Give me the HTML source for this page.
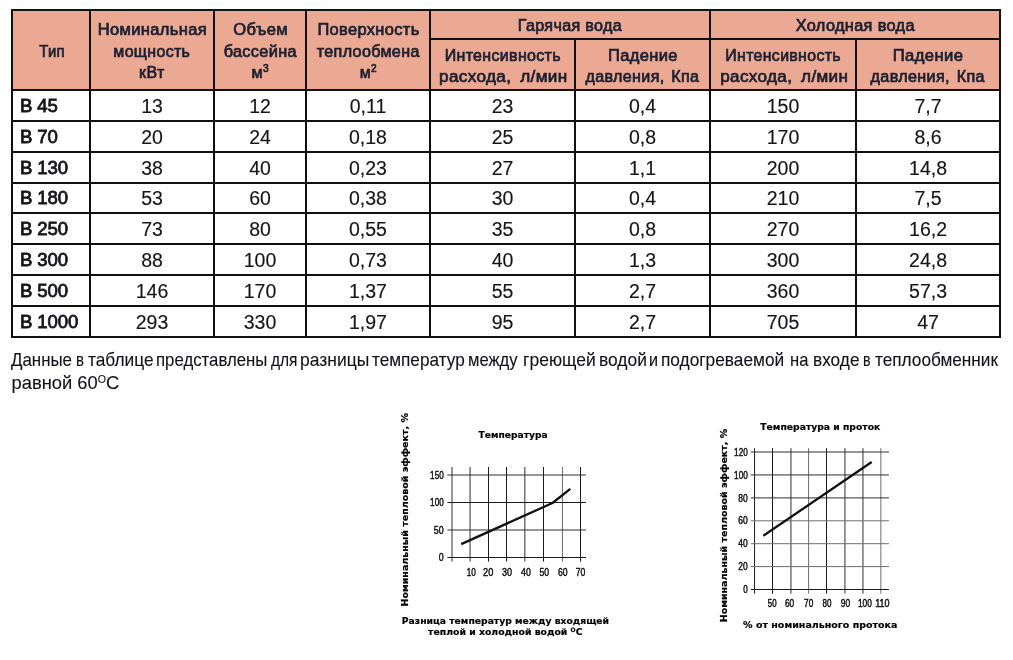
<!DOCTYPE html>
<html lang="ru">
<head>
<meta charset="utf-8">
<title>Технические характеристики теплообменников</title>
<style>
  html, body { margin: 0; padding: 0; background: #fff; }
  body { width: 1013px; height: 660px; position: relative; overflow: hidden;
         font-family: "Liberation Sans", sans-serif; color: #1b1b1f; }
  table.spec { position: absolute; left: 11px; top: 9px; border-collapse: collapse;
               table-layout: fixed; width: 990px; }
  table.spec th, table.spec td { border: 2px solid #111; padding: 0; text-align: center;
               overflow: hidden; white-space: nowrap; }
  table.spec th { background: #eba893; font-weight: normal; font-size: 16px; line-height: 21px;
               color: #1c2030; vertical-align: top; -webkit-text-stroke: 0.7px #1c2030; letter-spacing: 0.35px; }
  table.spec th .l { display: block; height: 21px; }
  table.spec th sup { font-size: 10px; line-height: 0; vertical-align: 6px; }
  table.spec th.c3 { padding-top: 7px; }
  table.spec th.c1 { padding-top: 29px; }
  table.spec th.g { padding-top: 3px; }
  table.spec th.c2 { padding-top: 4px; }
  table.spec td { font-size: 19.5px; line-height: 22px; height: 29px; vertical-align: middle;
               color: #15151c; -webkit-text-stroke: 0.15px #15151c; }
  table.spec td span { display: inline-block; }
  table.spec td.t { text-align: left; font-weight: normal; font-size: 18.6px; padding-left: 7px;
               letter-spacing: -0.1px; -webkit-text-stroke: 0.8px #15151c; }
  table.spec td.t span { transform: translateY(0.3px); }
  table.spec tr.s td { height: 28px; }
  table.spec tr.h1 { height: 29px; }
  table.spec tr.h2 { height: 51px; }
  p.note { position: absolute; left: 11px; top: 349px; margin: 0; font-size: 19px; line-height: 22.7px;
           white-space: nowrap; color: #12121c; -webkit-text-stroke: 0.12px #12121c; }
  p.note span { display: block; transform-origin: 0 0; }
  p.note .n1 { position: relative; height: 22.7px; width: 990px; }
  p.note .n1 .w { position: absolute; top: 0; }
  p.note .n2 { transform: translate(0.5px, -0.3px) scaleX(0.966); }
  p.note sup { font-size: 11px; vertical-align: 5.9px; line-height: 0; }
  svg.chart { position: absolute; left: 0; top: 0; }
</style>
</head>
<body>
<table class="spec">
  <colgroup>
    <col style="width:78px"><col style="width:124px"><col style="width:92px"><col style="width:124px">
    <col style="width:145px"><col style="width:135px"><col style="width:146px"><col style="width:144px">
  </colgroup>
  <thead>
    <tr class="h1">
      <th class="c1" rowspan="2"><span class="l" style="transform:translate(1.05px,1.00px) scaleX(0.9249)">Тип</span></th>
      <th class="c3" rowspan="2"><span class="l" style="transform:translate(0.30px,1.00px) scaleX(1.0309)">Номинальная</span><span class="l" style="transform:translate(-0.20px,2.00px) scaleX(0.9956)">мощность</span><span class="l" style="transform:translate(-0.15px,2.00px) scaleX(0.9981)">кВт</span></th>
      <th class="c3" rowspan="2"><span class="l" style="transform:translate(0.70px,1.00px) scaleX(1.0365)">Объем</span><span class="l" style="transform:translate(0.30px,2.00px) scaleX(1.0172)">бассейна</span><span class="l" style="transform:translate(0.30px,2.00px) scaleX(1.0196)">м<sup>3</sup></span></th>
      <th class="c3" rowspan="2"><span class="l" style="transform:translate(0.50px,1.00px) scaleX(1.0265)">Поверхность</span><span class="l" style="transform:translate(0.25px,2.00px) scaleX(1.0059)">теплообмена</span><span class="l" style="transform:translate(0.40px,2.00px) scaleX(0.9974)">м<sup>2</sup></span></th>
      <th class="g" colspan="2"><span class="l" style="transform:translate(-0.10px,1.00px) scaleX(1.0067)">Гарячая вода</span></th>
      <th class="g" colspan="2"><span class="l" style="transform:translate(0.30px,1.00px) scaleX(1.0184)">Холодная вода</span></th>
    </tr>
    <tr class="h2">
      <th class="c2"><span class="l" style="transform:translate(0.30px,1.00px) scaleX(0.9967)">Интенсивность</span><span class="l" style="transform:translate(0.80px,1.00px) scaleX(1.0691);word-spacing:3.5px">расхода, л/мин</span></th>
      <th class="c2"><span class="l" style="transform:translate(0.40px,1.00px) scaleX(1.0304)">Падение</span><span class="l" style="transform:translate(0.00px,1.00px) scaleX(1.0041);word-spacing:2px">давления, Кпа</span></th>
      <th class="c2"><span class="l" style="transform:translate(0.10px,1.00px) scaleX(0.9916)">Интенсивность</span><span class="l" style="transform:translate(1.25px,1.00px) scaleX(1.0651);word-spacing:3.5px">расхода, л/мин</span></th>
      <th class="c2"><span class="l" style="transform:translate(0.05px,1.00px) scaleX(1.0405)">Падение</span><span class="l" style="transform:translate(-0.30px,1.00px) scaleX(1.0078);word-spacing:2px">давления, Кпа</span></th>
    </tr>
  </thead>
  <tbody>
    <tr><td class="t"><span>B 45</span></td><td><span>13</span></td><td><span>12</span></td><td><span>0,11</span></td><td><span>23</span></td><td><span>0,4</span></td><td><span>150</span></td><td><span>7,7</span></td></tr>
    <tr><td class="t"><span>B 70</span></td><td><span>20</span></td><td><span>24</span></td><td><span>0,18</span></td><td><span>25</span></td><td><span>0,8</span></td><td><span>170</span></td><td><span>8,6</span></td></tr>
    <tr><td class="t"><span>B 130</span></td><td><span>38</span></td><td><span>40</span></td><td><span>0,23</span></td><td><span>27</span></td><td><span>1,1</span></td><td><span>200</span></td><td><span>14,8</span></td></tr>
    <tr class="s"><td class="t"><span>B 180</span></td><td><span>53</span></td><td><span>60</span></td><td><span>0,38</span></td><td><span>30</span></td><td><span>0,4</span></td><td><span>210</span></td><td><span>7,5</span></td></tr>
    <tr><td class="t"><span>B 250</span></td><td><span>73</span></td><td><span>80</span></td><td><span>0,55</span></td><td><span>35</span></td><td><span>0,8</span></td><td><span>270</span></td><td><span>16,2</span></td></tr>
    <tr><td class="t"><span>B 300</span></td><td><span>88</span></td><td><span>100</span></td><td><span>0,73</span></td><td><span>40</span></td><td><span>1,3</span></td><td><span>300</span></td><td><span>24,8</span></td></tr>
    <tr><td class="t"><span>B 500</span></td><td><span>146</span></td><td><span>170</span></td><td><span>1,37</span></td><td><span>55</span></td><td><span>2,7</span></td><td><span>360</span></td><td><span>57,3</span></td></tr>
    <tr><td class="t"><span>B 1000</span></td><td><span>293</span></td><td><span>330</span></td><td><span>1,97</span></td><td><span>95</span></td><td><span>2,7</span></td><td><span>705</span></td><td><span>47</span></td></tr>
  </tbody>
</table>

<p class="note"><span class="n1"><span class="w" style="left:0.30px;transform:scaleX(0.8882)">Данные</span> <span class="w" style="left:65.21px;transform:scaleX(0.7875)">в</span> <span class="w" style="left:77.00px;transform:scaleX(0.9099)">таблице</span> <span class="w" style="left:145.22px;transform:scaleX(0.8831)">представлены</span> <span class="w" style="left:259.50px;transform:scaleX(0.8161)">для</span> <span class="w" style="left:288.68px;transform:scaleX(0.9192)">разницы</span> <span class="w" style="left:360.90px;transform:scaleX(0.9049)">температур</span> <span class="w" style="left:456.83px;transform:scaleX(0.8732)">между</span> <span class="w" style="left:511.68px;transform:scaleX(0.9221)">греющей</span> <span class="w" style="left:587.68px;transform:scaleX(0.9160)">водой</span> <span class="w" style="left:638.35px;transform:scaleX(0.8500)">и</span> <span class="w" style="left:650.29px;transform:scaleX(0.9098)">подогреваемой</span> <span class="w" style="left:779.23px;transform:scaleX(0.8750)">на</span> <span class="w" style="left:801.79px;transform:scaleX(0.9082)">входе</span> <span class="w" style="left:851.95px;transform:scaleX(0.7500)">в</span> <span class="w" style="left:863.50px;transform:scaleX(0.9059)">теплообменник</span></span><span class="n2">равной 60<sup>O</sup>C</span></p>
<svg class="chart" width="240" height="250" viewBox="385 405 240 250" style="left:385px;top:405px">
<line x1="452" y1="467" x2="452" y2="561.6" stroke="#2e2e2e" stroke-width="1"/>
<line x1="470.05" y1="467" x2="470.05" y2="561.6" stroke="#2e2e2e" stroke-width="1"/>
<line x1="488.5" y1="467" x2="488.5" y2="561.6" stroke="#1c1c1c" stroke-width="1"/>
<line x1="506.5" y1="467" x2="506.5" y2="561.6" stroke="#1c1c1c" stroke-width="1"/>
<line x1="524.85" y1="467" x2="524.85" y2="561.6" stroke="#2e2e2e" stroke-width="1"/>
<line x1="543.5" y1="467" x2="543.5" y2="561.6" stroke="#1c1c1c" stroke-width="1"/>
<line x1="562.45" y1="467" x2="562.45" y2="561.6" stroke="#6e6e6e" stroke-width="1"/>
<line x1="580.5" y1="467" x2="580.5" y2="561.6" stroke="#1c1c1c" stroke-width="1"/>
<line x1="447.4" y1="475" x2="586" y2="475" stroke="#2e2e2e" stroke-width="1"/>
<line x1="447.4" y1="502.5" x2="586" y2="502.5" stroke="#1c1c1c" stroke-width="1"/>
<line x1="447.4" y1="530" x2="586" y2="530" stroke="#2e2e2e" stroke-width="1"/>
<line x1="447.4" y1="557.5" x2="586" y2="557.5" stroke="#1c1c1c" stroke-width="1"/>
<polyline points="461.2,544.1 552.5,503 570.3,488.9" fill="none" stroke="#111" stroke-width="2.3" stroke-linejoin="round"/>
<text x="430.1" y="478.7" font-family="Liberation Sans, sans-serif" font-size="10.5" fill="#111" stroke="#111" stroke-width="0.45" textLength="13.6" lengthAdjust="spacingAndGlyphs">150</text>
<text x="430.1" y="506.2" font-family="Liberation Sans, sans-serif" font-size="10.5" fill="#111" stroke="#111" stroke-width="0.45" textLength="13.6" lengthAdjust="spacingAndGlyphs">100</text>
<text x="433.8" y="533.7" font-family="Liberation Sans, sans-serif" font-size="10.5" fill="#111" stroke="#111" stroke-width="0.45" textLength="9.9" lengthAdjust="spacingAndGlyphs">50</text>
<text x="438.8" y="561.2" font-family="Liberation Sans, sans-serif" font-size="10.5" fill="#111" stroke="#111" stroke-width="0.45" textLength="4.9" lengthAdjust="spacingAndGlyphs">0</text>
<text x="466.7" y="576.2" font-family="Liberation Sans, sans-serif" font-size="10.5" fill="#111" stroke="#111" stroke-width="0.45" textLength="9.1" lengthAdjust="spacingAndGlyphs">10</text>
<text x="483.1" y="576.2" font-family="Liberation Sans, sans-serif" font-size="10.5" fill="#111" stroke="#111" stroke-width="0.45" textLength="10.2" lengthAdjust="spacingAndGlyphs">20</text>
<text x="501.9" y="576.2" font-family="Liberation Sans, sans-serif" font-size="10.5" fill="#111" stroke="#111" stroke-width="0.45" textLength="10" lengthAdjust="spacingAndGlyphs">30</text>
<text x="521" y="576.2" font-family="Liberation Sans, sans-serif" font-size="10.5" fill="#111" stroke="#111" stroke-width="0.45" textLength="9.8" lengthAdjust="spacingAndGlyphs">40</text>
<text x="539.4" y="576.2" font-family="Liberation Sans, sans-serif" font-size="10.5" fill="#111" stroke="#111" stroke-width="0.45" textLength="9.6" lengthAdjust="spacingAndGlyphs">50</text>
<text x="558" y="576.2" font-family="Liberation Sans, sans-serif" font-size="10.5" fill="#111" stroke="#111" stroke-width="0.45" textLength="9.6" lengthAdjust="spacingAndGlyphs">60</text>
<text x="575.7" y="576.2" font-family="Liberation Sans, sans-serif" font-size="10.5" fill="#111" stroke="#111" stroke-width="0.45" textLength="9.6" lengthAdjust="spacingAndGlyphs">70</text>
<text x="478.6" y="437.8" font-family="DejaVu Sans, Liberation Sans, sans-serif" font-size="9.4" font-weight="bold" stroke="#111" stroke-width="0.2" textLength="69.1" lengthAdjust="spacingAndGlyphs">Температура</text>
<text x="401.8" y="623.6" font-family="DejaVu Sans, Liberation Sans, sans-serif" font-size="9.4" font-weight="bold" stroke="#111" stroke-width="0.2" textLength="207.3" lengthAdjust="spacingAndGlyphs">Разница температур между входящей</text>
<text x="428.1" y="635.4" font-family="DejaVu Sans, Liberation Sans, sans-serif" font-size="9.4" font-weight="bold" stroke="#111" stroke-width="0.2" textLength="154.4" lengthAdjust="spacingAndGlyphs">теплой и холодной водой <tspan font-size="6" dy="-3.2">O</tspan><tspan dy="3.2">C</tspan></text>
<text transform="translate(408.4 606.5) rotate(-90)" font-family="DejaVu Sans, Liberation Sans, sans-serif" font-size="9.4" font-weight="bold" stroke="#111" stroke-width="0.2" textLength="193.4" lengthAdjust="spacingAndGlyphs">Номинальный тепловой эффект, %</text>
</svg>
<svg class="chart" width="210" height="240" viewBox="700 410 210 240" style="left:700px;top:410px">
<line x1="754.55" y1="448.2" x2="754.55" y2="593.7" stroke="#1c1c1c" stroke-width="1"/>
<line x1="772.5" y1="448.2" x2="772.5" y2="593.7" stroke="#1c1c1c" stroke-width="1"/>
<line x1="790.95" y1="448.2" x2="790.95" y2="593.7" stroke="#2e2e2e" stroke-width="1"/>
<line x1="808.6" y1="448.2" x2="808.6" y2="593.7" stroke="#6e6e6e" stroke-width="1"/>
<line x1="826.5" y1="448.2" x2="826.5" y2="593.7" stroke="#1c1c1c" stroke-width="1"/>
<line x1="844.95" y1="448.2" x2="844.95" y2="593.7" stroke="#2e2e2e" stroke-width="1"/>
<line x1="862.95" y1="448.2" x2="862.95" y2="593.7" stroke="#2e2e2e" stroke-width="1"/>
<line x1="880.85" y1="448.2" x2="880.85" y2="593.7" stroke="#6e6e6e" stroke-width="1"/>
<line x1="750.8" y1="452" x2="888.9" y2="452" stroke="#2e2e2e" stroke-width="1"/>
<line x1="750.8" y1="474.95" x2="888.9" y2="474.95" stroke="#2e2e2e" stroke-width="1"/>
<line x1="750.8" y1="497.9" x2="888.9" y2="497.9" stroke="#2e2e2e" stroke-width="1"/>
<line x1="750.8" y1="520.8" x2="888.9" y2="520.8" stroke="#6e6e6e" stroke-width="1"/>
<line x1="750.8" y1="543.7" x2="888.9" y2="543.7" stroke="#6e6e6e" stroke-width="1"/>
<line x1="750.8" y1="566.6" x2="888.9" y2="566.6" stroke="#6e6e6e" stroke-width="1"/>
<line x1="750.8" y1="589.5" x2="888.9" y2="589.5" stroke="#1c1c1c" stroke-width="1"/>
<polyline points="763.3,535.8 871.7,462.0" fill="none" stroke="#111" stroke-width="2.3"/>
<text x="734.1" y="455.6" font-family="Liberation Sans, sans-serif" font-size="10" fill="#111" stroke="#111" stroke-width="0.45" textLength="13.6" lengthAdjust="spacingAndGlyphs">120</text>
<text x="734.1" y="478.55" font-family="Liberation Sans, sans-serif" font-size="10" fill="#111" stroke="#111" stroke-width="0.45" textLength="13.6" lengthAdjust="spacingAndGlyphs">100</text>
<text x="738.3" y="501.5" font-family="Liberation Sans, sans-serif" font-size="10" fill="#111" stroke="#111" stroke-width="0.45" textLength="9.4" lengthAdjust="spacingAndGlyphs">80</text>
<text x="738.3" y="524.4" font-family="Liberation Sans, sans-serif" font-size="10" fill="#111" stroke="#111" stroke-width="0.45" textLength="9.4" lengthAdjust="spacingAndGlyphs">60</text>
<text x="738.3" y="547.3" font-family="Liberation Sans, sans-serif" font-size="10" fill="#111" stroke="#111" stroke-width="0.45" textLength="9.4" lengthAdjust="spacingAndGlyphs">40</text>
<text x="738.3" y="570.2" font-family="Liberation Sans, sans-serif" font-size="10" fill="#111" stroke="#111" stroke-width="0.45" textLength="9.4" lengthAdjust="spacingAndGlyphs">20</text>
<text x="743.2" y="593.1" font-family="Liberation Sans, sans-serif" font-size="10" fill="#111" stroke="#111" stroke-width="0.45" textLength="4.5" lengthAdjust="spacingAndGlyphs">0</text>
<text x="767.8" y="607.1" font-family="Liberation Sans, sans-serif" font-size="10" fill="#111" stroke="#111" stroke-width="0.45" textLength="8.7" lengthAdjust="spacingAndGlyphs">50</text>
<text x="785" y="607.1" font-family="Liberation Sans, sans-serif" font-size="10" fill="#111" stroke="#111" stroke-width="0.45" textLength="9.2" lengthAdjust="spacingAndGlyphs">60</text>
<text x="804.1" y="607.1" font-family="Liberation Sans, sans-serif" font-size="10" fill="#111" stroke="#111" stroke-width="0.45" textLength="9.1" lengthAdjust="spacingAndGlyphs">70</text>
<text x="822.5" y="607.1" font-family="Liberation Sans, sans-serif" font-size="10" fill="#111" stroke="#111" stroke-width="0.45" textLength="8.9" lengthAdjust="spacingAndGlyphs">80</text>
<text x="840.8" y="607.1" font-family="Liberation Sans, sans-serif" font-size="10" fill="#111" stroke="#111" stroke-width="0.45" textLength="9.3" lengthAdjust="spacingAndGlyphs">90</text>
<text x="858" y="607.1" font-family="Liberation Sans, sans-serif" font-size="10" fill="#111" stroke="#111" stroke-width="0.45" textLength="13.8" lengthAdjust="spacingAndGlyphs">100</text>
<text x="875.2" y="607.1" font-family="Liberation Sans, sans-serif" font-size="10" fill="#111" stroke="#111" stroke-width="0.45" textLength="14.4" lengthAdjust="spacingAndGlyphs">110</text>
<text x="760.3" y="429.7" font-family="DejaVu Sans, Liberation Sans, sans-serif" font-size="9.4" font-weight="bold" stroke="#111" stroke-width="0.2" textLength="120" lengthAdjust="spacingAndGlyphs">Температура и проток</text>
<text x="743.1" y="627.7" font-family="DejaVu Sans, Liberation Sans, sans-serif" font-size="9.4" font-weight="bold" stroke="#111" stroke-width="0.2" textLength="154.4" lengthAdjust="spacingAndGlyphs">% от номинального протока</text>
<text transform="translate(726.9 622.3) rotate(-90)" font-family="DejaVu Sans, Liberation Sans, sans-serif" font-size="9.4" font-weight="bold" stroke="#111" stroke-width="0.2" textLength="193.5" lengthAdjust="spacingAndGlyphs">Номинальный тепловой эффект, %</text>
</svg>
</body>
</html>
